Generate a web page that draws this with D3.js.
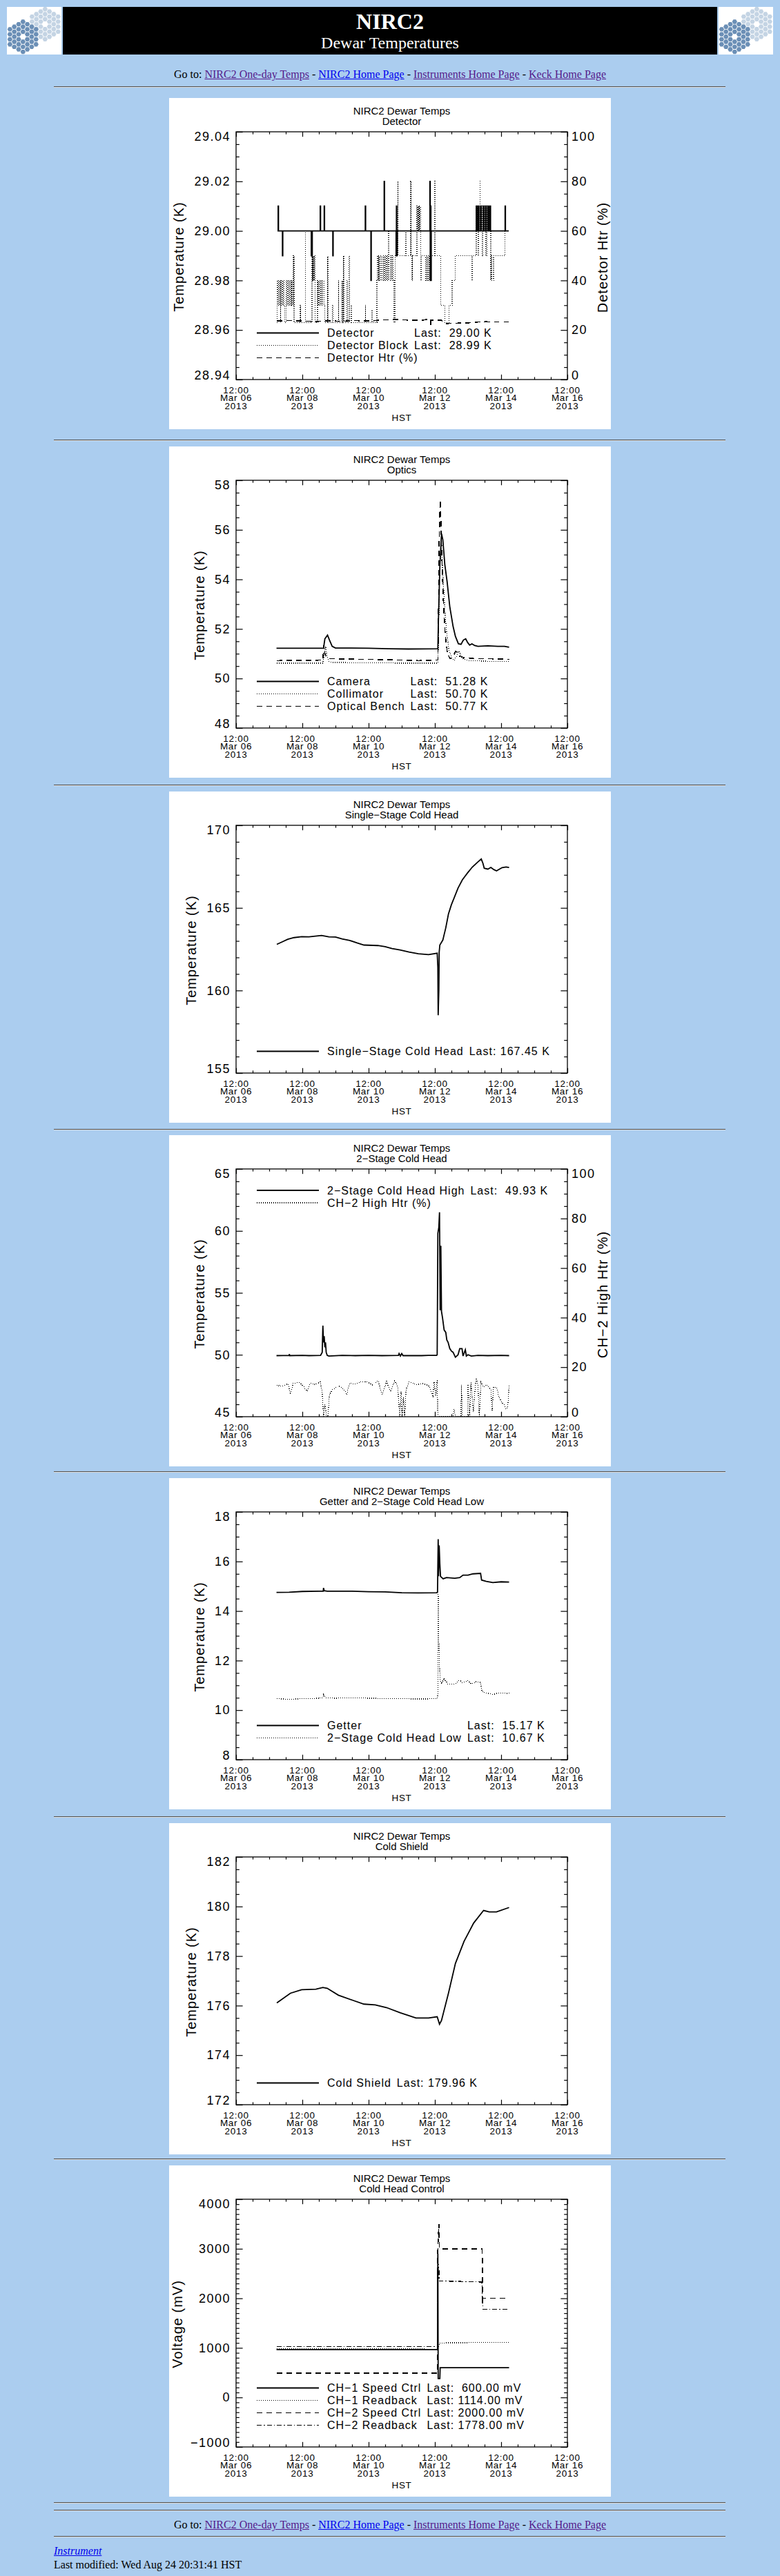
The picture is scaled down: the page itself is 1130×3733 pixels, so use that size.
<!DOCTYPE html>
<html><head><meta charset="utf-8">
<script src="https://cdn.jsdelivr.net/npm/d3@7"></script>
<style>
html,body{margin:0;padding:0;background:#abcdef;}
#page{position:relative;width:1130px;height:3733px;background:#abcdef;font-family:"Liberation Serif","Times New Roman",serif;overflow:hidden;}
.hr{position:absolute;left:78px;width:973px;height:0;border-top:1px solid #505050;border-bottom:1px solid #dcdcdc;}
.line{position:absolute;font-size:16px;line-height:20px;color:#000;white-space:nowrap;}
a{color:#551a8b;text-decoration:underline;}
a.nv{color:#0000ee;}
</style></head>
<body><div id="page"></div>
<script>
// ---------------- DATA (days after 2013-03-06 12:00 HST, value) ----------------
const xMajorDays = [0, 2, 4, 6, 8, 10];

const detectorTemp = [[1.25,29.00],[1.27,29.01],[1.28,29.00],[1.40,28.99],[1.41,29.00],[2.27,28.99],[2.30,29.00],[2.54,29.01],[2.55,29.00],[2.66,29.01],[2.67,29.00],[2.92,28.99],[2.93,29.00],[3.90,29.01],[3.91,29.00],[4.07,28.98],[4.08,29.00],[4.47,29.02],[4.48,29.00],[4.83,28.99],[4.84,29.01],[4.85,28.99],[4.86,29.00],[5.85,29.02],[5.86,28.98],[5.87,29.01],[5.88,28.98],[5.89,29.00],[7.25,29.01],[7.27,29.00],[7.31,29.01],[7.33,29.00],[7.38,29.01],[7.40,29.00],[7.46,29.01],[7.48,29.00],[7.53,29.01],[7.55,29.00],[7.60,29.01],[7.62,29.00],[7.66,29.01],[7.68,29.00],[8.12,29.01],[8.13,29.00],[8.23,29.00]];
const detectorBlock = [[1.23,28.963],[1.24,28.98],[1.26,28.97],[1.28,28.98],[1.30,28.97],[1.32,28.98],[1.34,28.963],[1.35,28.98],[1.37,28.97],[1.39,28.98],[1.41,28.97],[1.43,28.98],[1.45,28.97],[1.47,28.963],[1.51,28.98],[1.53,28.97],[1.55,28.98],[1.57,28.97],[1.59,28.98],[1.61,28.97],[1.63,28.98],[1.65,28.97],[1.67,28.98],[1.69,28.97],[1.73,28.99],[1.75,28.963],[1.94,28.97],[1.95,28.963],[2.09,29.00],[2.10,28.963],[2.29,28.99],[2.30,28.98],[2.31,28.99],[2.32,28.98],[2.33,28.99],[2.34,28.98],[2.35,28.99],[2.36,28.98],[2.37,28.99],[2.38,28.963],[2.46,28.98],[2.48,28.97],[2.51,28.98],[2.53,28.97],[2.56,28.98],[2.59,28.97],[2.62,28.98],[2.65,28.97],[2.68,28.963],[2.76,28.99],[2.77,28.963],[2.90,28.97],[2.93,28.963],[3.09,28.98],[3.10,28.963],[3.20,28.98],[3.21,28.963],[3.24,28.99],[3.25,28.963],[3.35,28.98],[3.36,28.963],[3.41,28.99],[3.42,28.963],[3.48,28.97],[3.49,28.963],[3.90,28.97],[3.91,28.963],[4.10,28.968],[4.11,28.963],[4.25,28.98],[4.27,28.99],[4.29,28.98],[4.31,28.99],[4.33,28.98],[4.36,28.99],[4.39,28.98],[4.42,28.99],[4.45,28.98],[4.48,28.99],[4.51,28.98],[4.54,28.99],[4.57,28.98],[4.60,29.00],[4.62,28.98],[4.65,28.99],[4.68,28.98],[4.71,28.99],[4.74,28.98],[4.77,28.963],[4.80,28.99],[4.88,29.02],[4.89,28.99],[5.12,29.00],[5.13,28.99],[5.27,29.02],[5.28,28.99],[5.31,28.98],[5.33,28.99],[5.46,29.01],[5.48,29.00],[5.50,29.01],[5.52,29.00],[5.54,29.01],[5.57,28.98],[5.59,28.99],[5.70,28.99],[5.73,28.98],[5.76,28.99],[5.79,28.98],[5.82,28.99],[5.85,28.98],[5.88,28.99],[6.00,29.02],[6.01,28.99],[6.13,28.99],[6.17,28.97],[6.30,28.963],[6.43,28.97],[6.52,28.98],[6.61,28.99],[7.12,28.98],[7.13,28.99],[7.25,29.01],[7.27,29.00],[7.29,29.01],[7.31,28.99],[7.33,29.01],[7.36,29.02],[7.37,29.00],[7.40,29.01],[7.43,28.99],[7.45,29.01],[7.48,29.00],[7.51,29.01],[7.54,28.99],[7.57,29.01],[7.60,29.00],[7.63,29.01],[7.66,29.00],[7.69,28.98],[7.71,28.99],[7.77,28.98],[7.78,28.99],[8.12,29.00],[8.22,29.00]];
const detectorHtr = [[1.23,23.6],[1.60,23.8],[2.00,23.6],[2.40,23.4],[2.80,23.7],[3.20,23.5],[3.60,23.8],[4.00,23.6],[4.40,24.0],[4.80,24.3],[5.20,24.0],[5.60,23.9],[5.87,24.5],[5.88,21.5],[5.89,24.0],[6.20,24.0],[6.30,22.6],[6.80,22.8],[7.20,23.0],[7.40,23.4],[7.80,23.2],[8.22,23.3]];

const opticsCamera = [[1.22,51.22],[2.64,51.22],[2.68,51.6],[2.76,51.75],[2.82,51.55],[2.90,51.3],[3.00,51.23],[4.0,51.22],[4.6,51.2],[5.2,51.19],[6.09,51.2],[6.11,52.5],[6.15,54.5],[6.20,55.85],[6.24,55.6],[6.30,54.6],[6.37,53.9],[6.45,52.9],[6.55,52.1],[6.62,51.7],[6.71,51.4],[6.79,51.38],[6.86,51.55],[6.93,51.6],[6.99,51.45],[7.05,51.35],[7.12,51.4],[7.20,51.33],[7.30,51.3],[7.6,51.32],[7.9,51.3],[8.1,51.3],[8.24,51.26]];
const opticsCollimator = [[1.22,50.62],[2.62,50.62],[2.66,51.0],[2.70,51.3],[2.74,50.9],[2.80,50.7],[2.9,50.65],[4.0,50.63],[5.0,50.62],[6.09,50.62],[6.11,51.5],[6.14,54.0],[6.18,55.4],[6.21,55.0],[6.25,54.0],[6.30,52.8],[6.36,51.8],[6.42,51.2],[6.50,50.85],[6.58,50.72],[6.65,50.9],[6.72,51.1],[6.78,50.95],[6.85,50.8],[7.0,50.72],[7.5,50.7],[8.24,50.68]];
const opticsBench = [[1.22,50.72],[2.62,50.74],[2.65,51.35],[2.68,51.0],[2.72,50.85],[2.80,50.8],[3.5,50.78],[4.5,50.76],[5.5,50.72],[6.09,50.74],[6.10,51.5],[6.13,55.5],[6.16,57.2],[6.19,56.0],[6.22,54.5],[6.26,53.0],[6.31,51.8],[6.38,51.0],[6.46,50.8],[6.55,50.85],[6.62,51.1],[6.68,51.05],[6.74,50.9],[6.85,50.85],[7.2,50.8],[7.6,50.8],[8.0,50.78],[8.24,50.77]];

const singleStage = [[1.23,162.79],[1.40,162.95],[1.56,163.1],[1.75,163.2],[1.98,163.26],[2.2,163.25],[2.58,163.33],[2.8,163.25],[3.0,163.24],[3.2,163.12],[3.43,163.03],[3.65,162.88],[3.86,162.75],[4.28,162.72],[4.5,162.65],[4.71,162.54],[4.95,162.45],[5.22,162.33],[5.5,162.22],[5.81,162.17],[6.07,162.26],[6.09,161.4],[6.10,158.5],[6.12,160.0],[6.13,162.3],[6.15,162.75],[6.24,163.05],[6.33,163.8],[6.41,164.63],[6.50,165.2],[6.58,165.6],[6.70,166.2],[6.83,166.7],[6.98,167.1],[7.13,167.47],[7.28,167.75],[7.40,167.96],[7.45,167.7],[7.49,167.4],[7.60,167.35],[7.69,167.45],[7.78,167.32],[7.86,167.24],[7.95,167.35],[8.03,167.44],[8.15,167.48],[8.24,167.45]];

const ch2High = [[1.22,49.93],[1.6,49.95],[1.61,50.05],[1.62,49.93],[2.0,49.95],[2.2,49.93],[2.55,49.95],[2.60,50.2],[2.62,52.35],[2.64,51.0],[2.66,51.5],[2.68,50.6],[2.70,51.0],[2.72,50.2],[2.75,49.95],[2.80,49.9],[3.2,49.95],[3.6,49.93],[4.0,49.95],[4.4,49.93],[4.90,49.95],[4.92,50.1],[4.96,49.9],[5.0,50.1],[5.04,49.93],[5.6,49.93],[5.8,49.95],[6.05,49.95],[6.07,50.0],[6.09,59.8],[6.12,60.3],[6.14,61.5],[6.16,53.6],[6.18,58.8],[6.20,53.5],[6.23,53.0],[6.28,52.0],[6.33,51.8],[6.36,51.2],[6.40,51.0],[6.45,50.5],[6.50,50.3],[6.55,50.2],[6.62,49.8],[6.70,50.0],[6.75,50.5],[6.82,50.5],[6.85,49.9],[6.92,50.4],[6.95,49.9],[7.0,50.0],[7.1,49.9],[7.3,49.95],[7.6,49.93],[8.0,49.95],[8.24,49.93]];
const ch2HighHtr = [[1.22,12.7],[1.39,12.3],[1.56,13.2],[1.64,9.5],[1.73,13.5],[1.90,13.8],[1.98,13.0],[2.15,10.3],[2.24,13.5],[2.41,13.0],[2.54,14.0],[2.60,10],[2.64,0],[2.68,5],[2.73,0],[2.77,0],[2.82,9],[2.92,11],[3.09,12.5],[3.26,11],[3.34,9.3],[3.43,13.5],[3.60,13.2],[3.77,14],[3.94,14.2],[4.11,12.8],[4.28,14.5],[4.41,9],[4.54,14.3],[4.66,10],[4.79,14.5],[4.88,12],[4.94,0],[4.98,10],[5.01,0],[5.05,8],[5.09,0],[5.13,11],[5.22,14],[5.47,13],[5.64,13.4],[5.81,12.5],[5.94,8.5],[5.98,14],[6.03,8],[6.07,15],[6.09,0],[6.54,0],[6.58,3],[6.62,0],[6.79,0],[6.80,12.8],[6.83,0],[6.99,0],[7.00,13.5],[7.05,0],[7.09,14],[7.16,2],[7.24,15.5],[7.30,13],[7.34,0],[7.39,14],[7.47,12],[7.56,13],[7.69,11],[7.73,2.5],[7.77,12],[7.86,11.8],[7.94,8],[8.03,5.5],[8.11,4.5],[8.15,3],[8.20,4],[8.24,12.5]];

const getter = [[1.22,14.75],[1.6,14.76],[2.0,14.79],[2.5,14.8],[2.63,14.8],[2.64,14.93],[2.66,14.82],[2.75,14.8],[3.5,14.8],[4.0,14.78],[4.5,14.77],[5.0,14.74],[5.5,14.73],[6.05,14.74],[6.08,14.76],[6.10,16.9],[6.11,15.4],[6.13,16.65],[6.15,15.9],[6.17,15.4],[6.25,15.3],[6.35,15.35],[6.60,15.32],[6.75,15.35],[6.85,15.45],[7.0,15.45],[7.15,15.5],[7.38,15.52],[7.41,15.25],[7.55,15.2],[7.75,15.15],[8.0,15.18],[8.24,15.17]];
const ch2Low = [[1.22,10.46],[1.6,10.44],[2.0,10.46],[2.5,10.48],[2.63,10.5],[2.64,10.62],[2.68,10.5],[3.0,10.48],[3.5,10.5],[4.0,10.48],[4.5,10.47],[5.0,10.46],[5.5,10.45],[6.07,10.46],[6.09,10.6],[6.10,14.75],[6.12,12.8],[6.14,11.8],[6.16,11.2],[6.20,11.1],[6.28,11.25],[6.4,11.05],[6.6,11.05],[6.75,11.2],[6.85,11.1],[6.98,11.2],[7.1,11.05],[7.25,11.15],[7.38,11.12],[7.42,10.75],[7.55,10.7],[7.75,10.63],[7.95,10.7],[8.24,10.67]];

const coldShield = [[1.23,176.11],[1.64,176.5],[1.98,176.64],[2.41,176.66],[2.62,176.73],[2.75,176.7],[3.09,176.42],[3.51,176.22],[3.86,176.06],[4.20,176.03],[4.54,175.92],[4.96,175.71],[5.43,175.5],[5.81,175.5],[6.07,175.55],[6.14,175.25],[6.20,175.4],[6.41,176.5],[6.62,177.7],[6.88,178.59],[7.17,179.33],[7.47,179.84],[7.64,179.78],[7.86,179.78],[8.24,179.96]];

const ch1Speed = [[1.22,965],[6.08,965],[6.09,2900],[6.10,380],[6.15,380],[6.16,600],[8.24,600]];
const ch1Readback = [[1.22,985],[3.0,980],[6.08,975],[6.10,1000],[6.15,1100],[7.0,1105],[8.24,1110]];
const ch2Speed = [[1.22,490],[6.08,490],[6.09,3000],[6.12,3500],[6.14,3000],[7.43,3000],[7.44,2000],[8.24,2000]];
const ch2Readback = [[1.22,1030],[6.08,1030],[6.09,2900],[6.11,2500],[6.12,2600],[6.13,2350],[7.42,2330],[7.43,2050],[7.45,1780],[8.24,1778]];

// tick labels
const detTicks = [28.94,28.96,28.98,29.00,29.02,29.04];
const pctTicks = [0,20,40,60,80,100];
const opticsTicks = [48,50,52,54,56,58];
const singleTicks = [155,160,165,170];
const ch2Ticks = [45,50,55,60,65];
const getterTicks = [8,10,12,14,16,18];
const shieldTicks = [172,174,176,178,180,182];
const voltTicks = [-1000,0,1000,2000,3000,4000];

// ---------------- PAGE ----------------
const T0 = Date.UTC(2013,2,6,12), DAY = 864e5;
const toDate = d => new Date(T0 + d*DAY);
const FONT = '"Liberation Sans", Arial, sans-serif';
const page = d3.select('#page');

function logo(left){
  const s = page.append('svg').attr('width',79).attr('height',69)
    .style('position','absolute').style('left',left+'px').style('top','10px').style('background','#fff');
  const size = 4.2, r = 3.7;
  const cells = [];
  for(let q=-3;q<=3;q++) for(let rr=-3;rr<=3;rr++){ const k=Math.max(Math.abs(q),Math.abs(rr),Math.abs(q+rr)); if(k>=1&&k<=3) cells.push([q,rr]); }
  const hex = (cx,cy)=> d3.range(6).map(i=>[cx+r*Math.cos(i*Math.PI/3), cy+r*Math.sin(i*Math.PI/3)]);
  [[55.3,25,'#c4d4e4'],[23.3,43.3,'#6b8fb6']].forEach(([cx,cy,col])=>{
    s.append('g').selectAll('path').data(cells).join('path')
      .attr('d',([q,rr])=>'M'+hex(cx+size*1.5*q, cy+size*Math.sqrt(3)*(rr+q/2)).join('L')+'Z')
      .attr('fill',col);
  });
}
logo(10); logo(1041);
page.append('div').style('position','absolute').style('left','91px').style('top','10px')
  .style('width','948px').style('height','69px').style('background','#000');
page.append('div').attr('class','line').style('left','91px').style('width','948px').style('text-align','center')
  .style('top','11px').style('font-size','32px').style('line-height','40px').style('font-weight','bold').style('color','#fff').text('NIRC2');
page.append('div').attr('class','line').style('left','91px').style('width','948px').style('text-align','center')
  .style('top','47px').style('font-size','24px').style('line-height','30px').style('color','#fff').text('Dewar Temperatures');

function gotoLine(top){
  page.append('div').attr('class','line').style('left','0').style('width','1130px').style('text-align','center').style('top',top+'px')
    .html('Go to: <a href="#">NIRC2 One-day Temps</a> - <a class="nv" href="#">NIRC2 Home Page</a> - <a href="#">Instruments Home Page</a> - <a href="#">Keck Home Page</a>');
}
function hr(top){ page.append('div').attr('class','hr').style('top',top+'px'); }
gotoLine(98); hr(125);
[637,1137,1636,2132,2632,3128,3626,3637].forEach(hr);
gotoLine(3649); hr(3675);
page.append('div').attr('class','line').style('left','78px').style('top','3687px').html('<a class="nv" href="#"><i>Instrument</i></a>');
page.append('div').attr('class','line').style('left','78px').style('top','3707px').text('Last modified: Wed Aug 24 20:31:41 HST');

// ---------------- CHARTS ----------------
const STY = {solid:{dash:null,w:1.8}, dotted:{dash:'1,2',w:1.3}, dashed:{dash:'8,6',w:1.6}, dashdot:{dash:'7,3,1.5,3',w:1.4}};
const xMinorDays = d3.range(0,10.001,0.5).filter(d=>!xMajorDays.includes(d));
function minors(maj, n){ const out=[]; for(let i=0;i<maj.length-1;i++){ const st=(maj[i+1]-maj[i])/n; for(let j=1;j<n;j++) out.push(maj[i]+st*j);} return out; }

function drawChart(c){
  const svg = page.append('svg').attr('width',640).attr('height',480)
    .style('position','absolute').style('left','245px').style('top',c.top+'px').style('background','#fff');
  const L=97,R=577,T=49,B=408;
  const x = d3.scaleUtc().domain([toDate(0),toDate(10)]).range([L,R]);
  const y = d3.scaleLinear().domain([c.ticks[0], c.ticks[c.ticks.length-1]]).range([B,T]);
  const y2 = c.y2 ? d3.scaleLinear().domain([c.y2.ticks[0], c.y2.ticks[c.y2.ticks.length-1]]).range([B,T]) : null;
  const id = 'clip'+c.top;
  svg.append('clipPath').attr('id',id).append('rect').attr('x',L).attr('y',T).attr('width',R-L).attr('height',B-T);

  // data
  c.series.forEach(s=>{
    const sc = s.axis===2 ? y2 : y;
    const ln = d3.line().x(d=>x(toDate(d[0]))).y(d=>sc(d[1])).curve(s.step?d3.curveStepAfter:d3.curveLinear);
    svg.append('path').attr('d',ln(s.data)).attr('fill','none').attr('stroke','#000')
      .attr('stroke-width',STY[s.style].w).attr('stroke-dasharray',STY[s.style].dash)
      .attr('shape-rendering', s.style==='solid' ? 'auto' : 'crispEdges')
      .attr('clip-path',`url(#${id})`);
  });

  function addAxis(axis, tx, ty){
    const g = svg.append('g').attr('transform',`translate(${tx},${ty})`).call(axis);
    g.select('.domain').remove();
    g.selectAll('line').attr('stroke','#000').attr('stroke-width',1.2);
    g.selectAll('text').style('font-family',FONT).attr('fill','#000');
    return g;
  }
  const majX = xMajorDays.map(toDate), minXd = xMinorDays.map(toDate);
  addAxis(d3.axisBottom(x).tickValues(majX).tickSize(-7.2).tickFormat(''),0,B);
  addAxis(d3.axisBottom(x).tickValues(minXd).tickSize(-3.6).tickFormat(''),0,B);
  addAxis(d3.axisTop(x).tickValues(majX).tickSize(-7.2).tickFormat(''),0,T);
  addAxis(d3.axisTop(x).tickValues(minXd).tickSize(-3.6).tickFormat(''),0,T);

  const gl = addAxis(d3.axisLeft(y).tickValues(c.ticks).tickSize(-9.6).tickPadding(8).tickFormat(c.fmt),L,0);
  addAxis(d3.axisLeft(y).tickValues(minors(c.ticks,c.sub)).tickSize(-4.8).tickFormat(''),L,0);
  gl.selectAll('text').style('font-size','18px').style('letter-spacing','1.5px')
    .attr('y',(d,i,n)=> i===0 ? -6.5 : (i===n.length-1 ? 6.5 : 0));
  if(y2){
    const gr = addAxis(d3.axisRight(y2).tickValues(c.y2.ticks).tickSize(-9.6).tickPadding(6).tickFormat(d3.format('d')),R,0);
    addAxis(d3.axisRight(y2).tickValues(minors(c.y2.ticks,c.y2.sub)).tickSize(-4.8).tickFormat(''),R,0);
    gr.selectAll('text').style('font-size','18px').style('letter-spacing','1.5px')
      .attr('y',(d,i,n)=> i===0 ? -6.5 : (i===n.length-1 ? 6.5 : 0));
    svg.append('text').attr('transform','translate(628,231) rotate(-90)').attr('text-anchor','middle')
      .attr('dominant-baseline','central').style('font-family',FONT).style('font-size','20px').style('letter-spacing','1px').text(c.y2.title);
  } else {
    addAxis(d3.axisRight(y).tickValues(c.ticks).tickSize(-9.6).tickFormat(''),R,0);
    addAxis(d3.axisRight(y).tickValues(minors(c.ticks,c.sub)).tickSize(-4.8).tickFormat(''),R,0);
  }
  svg.append('rect').attr('x',L).attr('y',T).attr('width',R-L).attr('height',B-T).attr('fill','none').attr('stroke','#000').attr('stroke-width',1.3);

  // left axis title
  let labMin = 1e9; gl.selectAll('text').each(function(){ const b=this.getBBox(); labMin=Math.min(labMin, L + b.x); });
  svg.append('text').attr('transform',`translate(${Math.max(labMin-22,12)},230) rotate(-90)`).attr('text-anchor','middle')
    .attr('dominant-baseline','central').style('font-family',FONT).style('font-size','20px').style('letter-spacing','1px').text(c.yTitle);

  // x labels
  const fH = d3.utcFormat('%H:%M'), fMD = d3.utcFormat('%b %d'), fY = d3.utcFormat('%Y');
  const xl = svg.append('g').style('font-family',FONT).style('font-size','13.5px').style('letter-spacing','0.7px');
  majX.forEach(dt=>{
    [[fH,423],[fMD,434.7],[fY,446]].forEach(([f,yy])=>{
      xl.append('text').attr('x',x(dt)).attr('y',yy).attr('text-anchor','middle').attr('dominant-baseline','central').text(f(dt));
    });
  });
  xl.append('text').attr('x',337).attr('y',463).attr('text-anchor','middle').attr('dominant-baseline','central').text('HST');

  // titles
  const tg = svg.append('g').style('font-family',FONT).style('font-size','15px');
  tg.append('text').attr('x',337).attr('y',18.5).attr('text-anchor','middle').attr('dominant-baseline','central').text('NIRC2 Dewar Temps');
  tg.append('text').attr('x',337).attr('y',33).attr('text-anchor','middle').attr('dominant-baseline','central').text(c.title);

  // legend
  const rows = c.series.map(s=>({name:s.name,last:s.last,style:s.style}));
  const y0 = c.legendTop != null ? c.legendTop : 376.5 - (rows.length-1)*18;
  const lg = svg.append('g').style('font-family',FONT).style('font-size','16px').style('letter-spacing','1px');
  let maxW = 0;
  rows.forEach((r,i)=>{
    const yy = y0 + i*18;
    lg.append('path').attr('d',d3.line()([[127,yy],[217,yy]])).attr('stroke','#000').attr('fill','none')
      .attr('stroke-width',STY[r.style].w).attr('stroke-dasharray',STY[r.style].dash)
      .attr('shape-rendering', r.style==='solid' ? 'auto' : 'crispEdges');
    const t = lg.append('text').attr('x',229).attr('y',yy).attr('dominant-baseline','central').text(r.name);
    if(r.last) maxW = Math.max(maxW, t.node().getComputedTextLength());
  });
  rows.forEach((r,i)=>{
    if(!r.last) return;
    lg.append('text').attr('x',229+maxW+8).attr('y',y0+i*18).attr('dominant-baseline','central')
      .style('white-space','pre').text(r.last);
  });
}

const tops = [142,647,1147,1645,2142,2642,3138];
drawChart({top:tops[0], title:'Detector', ticks:detTicks, sub:4, fmt:d3.format('.2f'), yTitle:'Temperature (K)',
  y2:{ticks:pctTicks, sub:4, title:'Detector Htr (%)'},
  series:[
    {name:'Detector', last:'Last:  29.00 K', style:'solid', data:detectorTemp, step:true},
    {name:'Detector Block', last:'Last:  28.99 K', style:'dotted', data:detectorBlock, step:true},
    {name:'Detector Htr (%)', last:null, style:'dashed', data:detectorHtr, axis:2}
  ]});
drawChart({top:tops[1], title:'Optics', ticks:opticsTicks, sub:4, fmt:d3.format('d'), yTitle:'Temperature (K)',
  series:[
    {name:'Camera', last:'Last:  51.28 K', style:'solid', data:opticsCamera},
    {name:'Collimator', last:'Last:  50.70 K', style:'dotted', data:opticsCollimator},
    {name:'Optical Bench', last:'Last:  50.77 K', style:'dashed', data:opticsBench}
  ]});
drawChart({top:tops[2], title:'Single\u2212Stage Cold Head', ticks:singleTicks, sub:5, fmt:d3.format('d'), yTitle:'Temperature (K)',
  series:[{name:'Single\u2212Stage Cold Head', last:'Last: 167.45 K', style:'solid', data:singleStage}]});
drawChart({top:tops[3], title:'2\u2212Stage Cold Head', ticks:ch2Ticks, sub:5, fmt:d3.format('d'), yTitle:'Temperature (K)',
  y2:{ticks:pctTicks, sub:4, title:'CH\u22122 High Htr (%)'}, legendTop:80,
  series:[
    {name:'2\u2212Stage Cold Head High', last:'Last:  49.93 K', style:'solid', data:ch2High},
    {name:'CH\u22122 High Htr (%)', last:null, style:'dotted', data:ch2HighHtr, axis:2}
  ]});
drawChart({top:tops[4], title:'Getter and 2\u2212Stage Cold Head Low', ticks:getterTicks, sub:4, fmt:d3.format('d'), yTitle:'Temperature (K)',
  series:[
    {name:'Getter', last:'Last:  15.17 K', style:'solid', data:getter},
    {name:'2\u2212Stage Cold Head Low', last:'Last:  10.67 K', style:'dotted', data:ch2Low}
  ]});
drawChart({top:tops[5], title:'Cold Shield', ticks:shieldTicks, sub:4, fmt:d3.format('d'), yTitle:'Temperature (K)',
  series:[{name:'Cold Shield', last:'Last: 179.96 K', style:'solid', data:coldShield}]});
drawChart({top:tops[6], title:'Cold Head Control', ticks:voltTicks, sub:10, fmt:d=>d<0?'\u2212'+Math.abs(d):String(d), yTitle:'Voltage (mV)',
  series:[
    {name:'CH\u22121 Speed Ctrl', last:'Last:  600.00 mV', style:'solid', data:ch1Speed},
    {name:'CH\u22121 Readback', last:'Last: 1114.00 mV', style:'dotted', data:ch1Readback},
    {name:'CH\u22122 Speed Ctrl', last:'Last: 2000.00 mV', style:'dashed', data:ch2Speed},
    {name:'CH\u22122 Readback', last:'Last: 1778.00 mV', style:'dashdot', data:ch2Readback}
  ]});
</script>
</body></html>
